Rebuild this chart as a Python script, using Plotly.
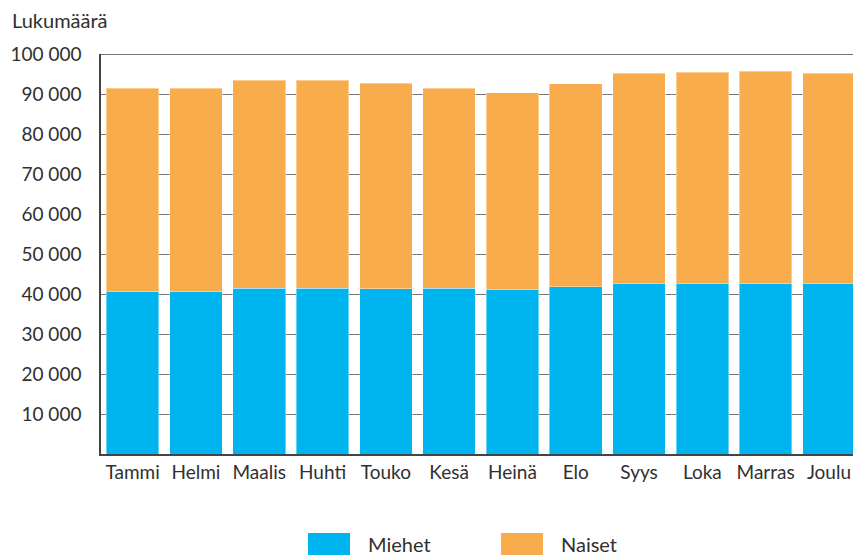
import plotly.graph_objects as go

months = ["Tammi", "Helmi", "Maalis", "Huhti", "Touko", "Kesä", "Heinä", "Elo", "Syys", "Loka", "Marras", "Joulu"]
totals = [91500, 91500, 93400, 93500, 92650, 91500, 90300, 92550, 95150, 95500, 95650, 95150]
miehet = [40550, 40550, 41450, 41450, 41300, 41450, 41150, 41800, 42700, 42650, 42650, 42550]
naiset = [t - m for t, m in zip(totals, miehet)]
y_ticks = [10000, 20000, 30000, 40000, 50000, 60000, 70000, 80000, 90000, 100000]
y_labels = ["10 000", "20 000", "30 000", "40 000", "50 000", "60 000", "70 000", "80 000", "90 000", "100 000"]

BLUE = "#00B5EF"
ORANGE = "#F9AC4B"
TXT = "#303030"
FONT = "Lato"
FS = 19

W, H = 853, 555
L, R, T, B = 101, 0, 54, 101
PW, PH = W - L - R, H - T - B

def px(x):
    return (x - L) / PW

def py(y):
    return (H - B - y) / PH

fig = go.Figure()
fig.add_trace(go.Bar(x=months, y=miehet, name="Miehet", marker=dict(color=BLUE, line=dict(color="rgba(255,255,255,0.4)", width=1))))
fig.add_trace(go.Bar(x=months, y=naiset, name="Naiset", marker=dict(color=ORANGE, line=dict(color="rgba(255,255,255,0.4)", width=1))))

shapes = [
    dict(type="line", xref="paper", yref="y", x0=0, x1=1, y0=100000, y1=100000, line=dict(color="#444444", width=1.5)),
    dict(type="rect", xref="paper", yref="paper", x0=px(308), x1=px(350), y0=py(555), y1=py(533), fillcolor=BLUE, line=dict(width=0)),
    dict(type="rect", xref="paper", yref="paper", x0=px(501), x1=px(543), y0=py(555), y1=py(533), fillcolor=ORANGE, line=dict(width=0)),
]
annotations = [
    dict(text="Lukumäärä", xref="paper", yref="paper", x=px(10), y=py(20), xanchor="left", yanchor="middle", showarrow=False, font=dict(size=20, color=TXT, family=FONT)),
    dict(text="Miehet", xref="paper", yref="paper", x=px(366), y=py(544), xanchor="left", yanchor="middle", showarrow=False, font=dict(size=20, color=TXT, family=FONT)),
    dict(text="Naiset", xref="paper", yref="paper", x=px(559), y=py(544), xanchor="left", yanchor="middle", showarrow=False, font=dict(size=20, color=TXT, family=FONT)),
]

fig.update_layout(
    width=W, height=H,
    margin=dict(l=L, r=R, t=T, b=B, pad=0),
    barmode="stack", bargap=0.17,
    plot_bgcolor="white", paper_bgcolor="white",
    showlegend=False,
    font=dict(family=FONT, size=FS, color=TXT),
    shapes=shapes, annotations=annotations,
    xaxis=dict(range=[-0.5, -0.5 + PW / 63.3], showline=True, linecolor="#444444", linewidth=1.5,
               showgrid=False, ticks="", tickfont=dict(size=FS, color=TXT, family=FONT), fixedrange=True),
    yaxis=dict(range=[0, 100000], tickvals=y_ticks, ticktext=y_labels, showline=True, linecolor="#444444", linewidth=1.5,
               showgrid=True, gridcolor="#777777", gridwidth=1, ticks="", ticklabelstandoff=14,
               tickfont=dict(size=FS, color=TXT, family=FONT), zeroline=False),
)

fig.write_html("out.html", config={"displayModeBar": False},
               post_script="document.body.style.margin='0';document.body.style.overflow='hidden';")
